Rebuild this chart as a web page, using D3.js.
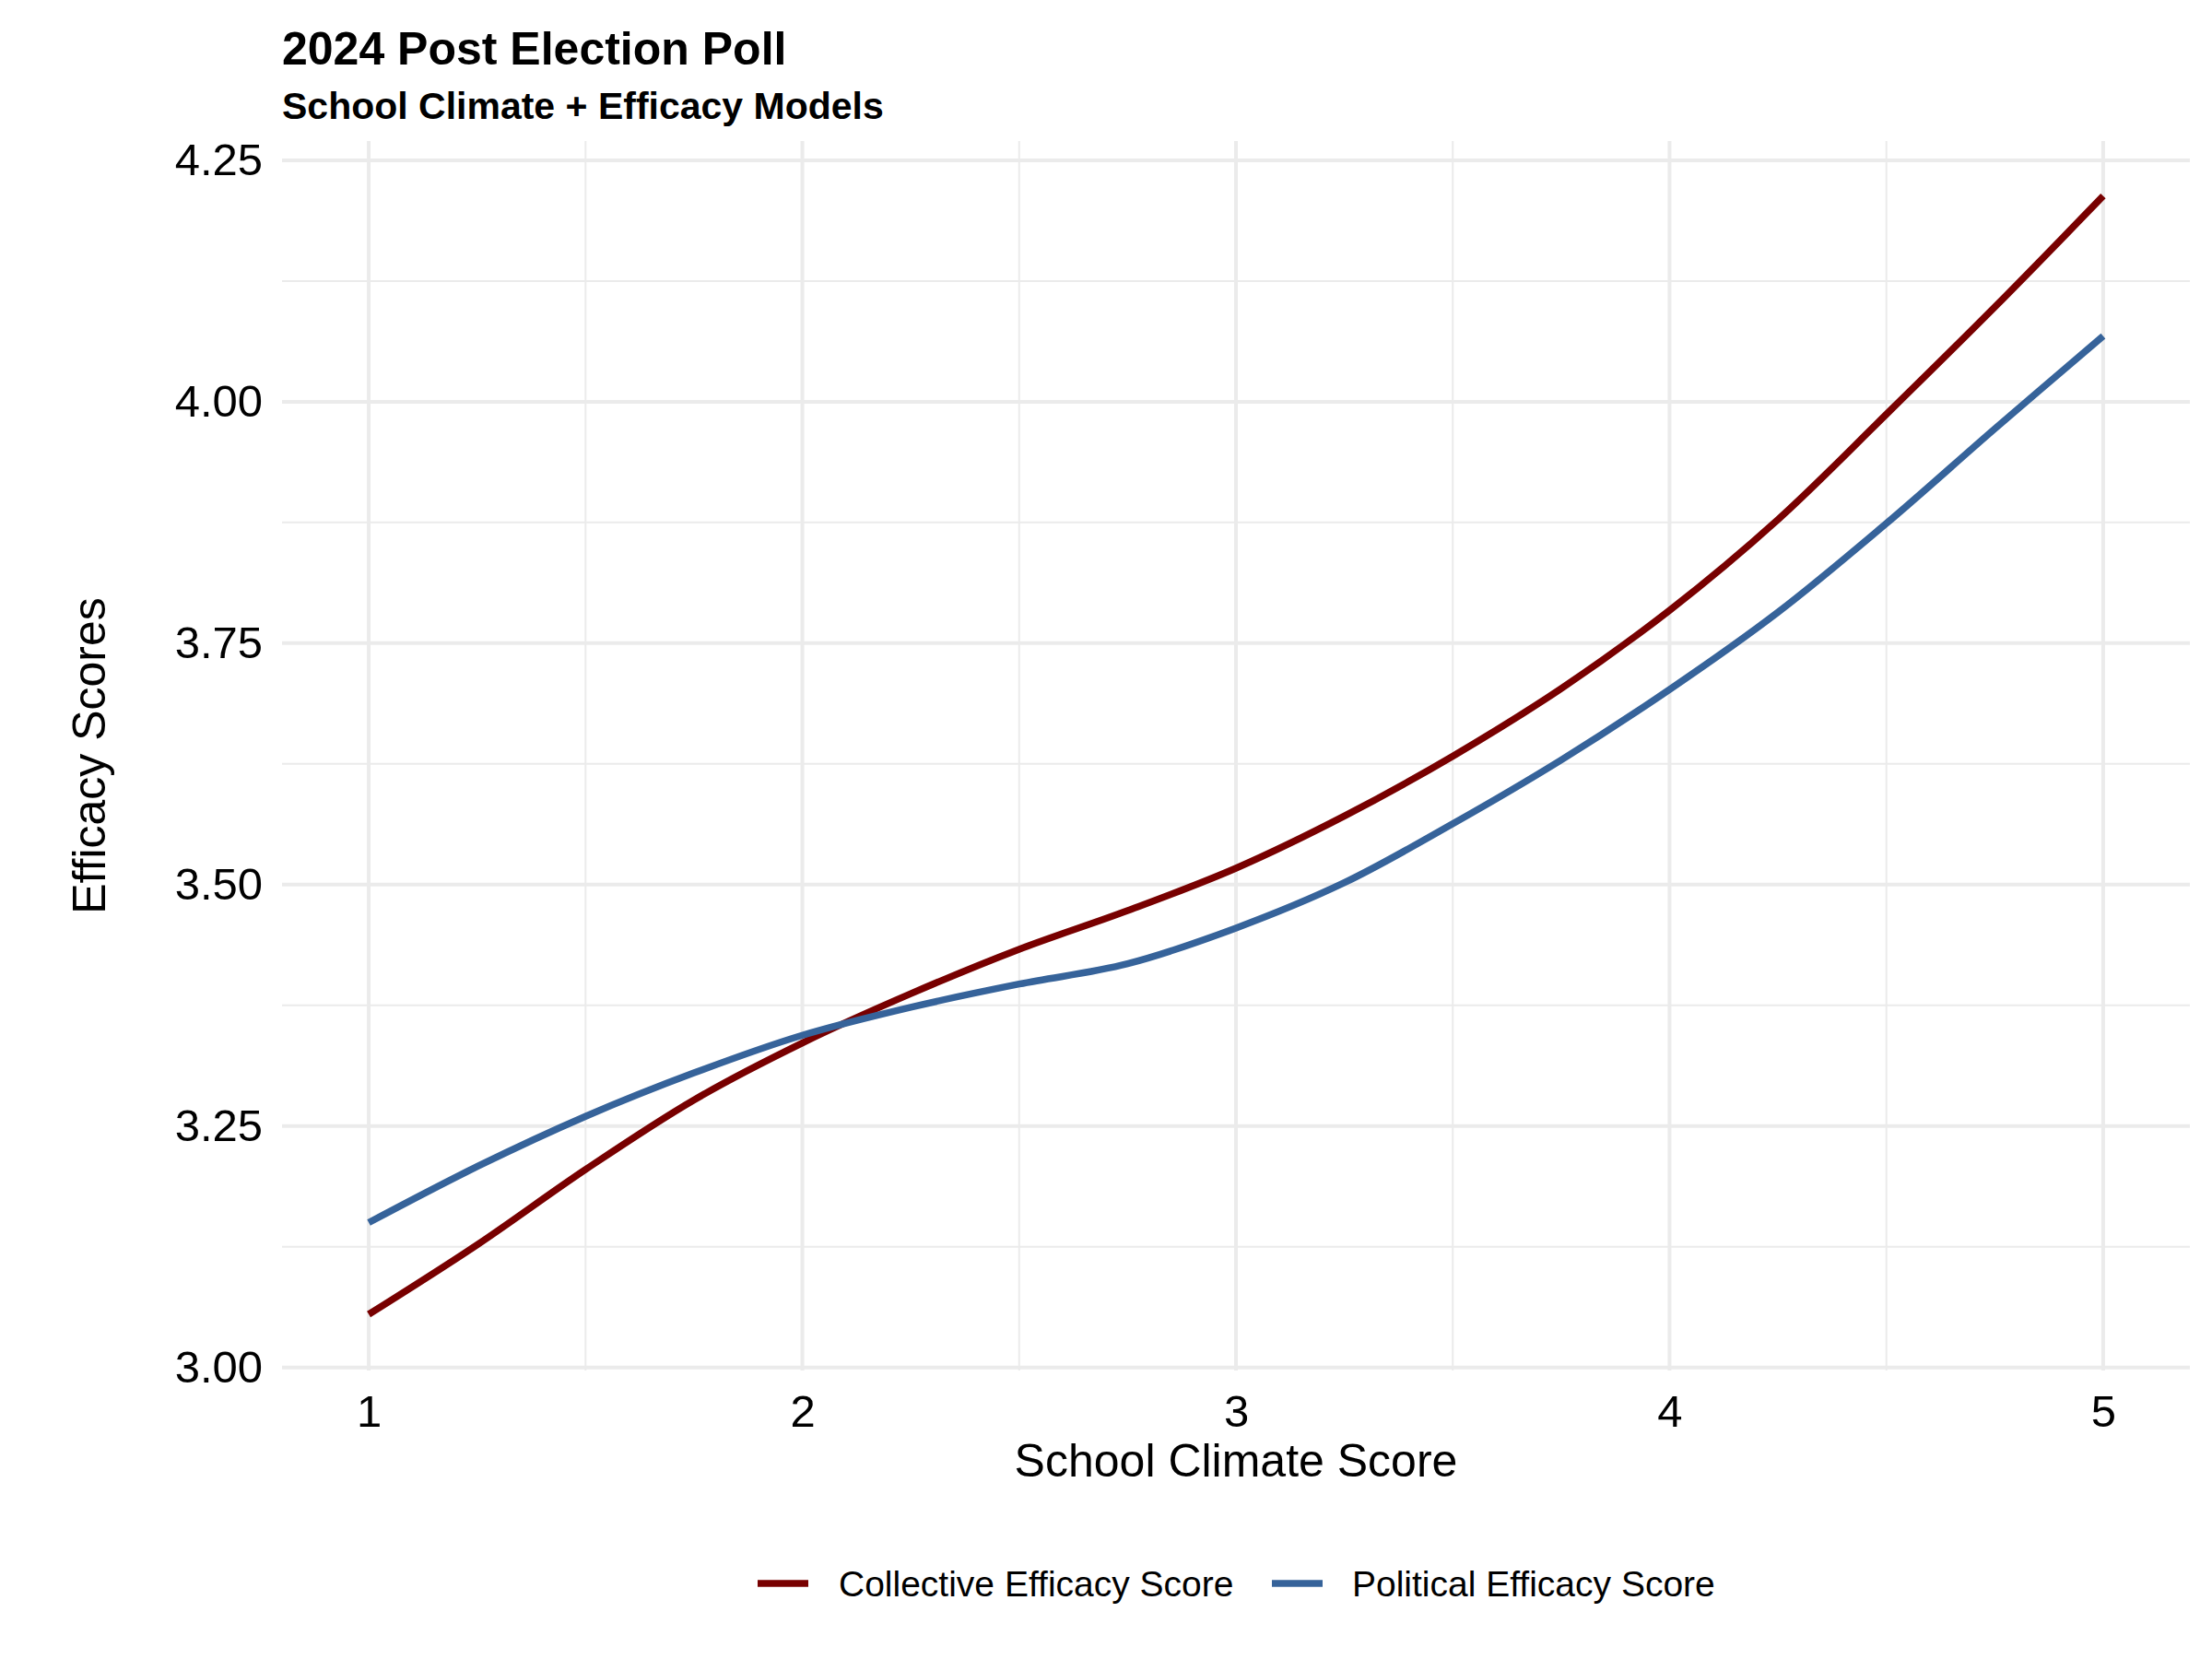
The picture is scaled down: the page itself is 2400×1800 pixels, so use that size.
<!DOCTYPE html>
<html>
<head>
<meta charset="utf-8">
<script src="https://cdn.jsdelivr.net/npm/d3@7"></script>
<style>
  html, body { margin: 0; padding: 0; background: #ffffff; }
  svg text { font-family: "Liberation Sans", Arial, Helvetica, sans-serif; fill: #000; }
</style>
</head>
<body>
<svg id="chart" width="2400" height="1800"></svg>
<script>
// ---- data ----
const climateScores = [1, 1.25, 1.5, 1.75, 2, 2.25, 2.5, 2.75, 3, 3.25, 3.5, 3.75, 4, 4.25, 4.5, 4.75, 5];
const collectiveEfficacy = [3.055, 3.127, 3.205, 3.277, 3.336, 3.387, 3.433, 3.473, 3.517, 3.571, 3.633, 3.703, 3.784, 3.878, 3.987, 4.098, 4.213];
const politicalEfficacy  = [3.150, 3.208, 3.260, 3.305, 3.344, 3.373, 3.397, 3.418, 3.455, 3.502, 3.563, 3.629, 3.702, 3.782, 3.874, 3.972, 4.068];
const seriesNames = ["Collective Efficacy Score", "Political Efficacy Score"];
const seriesColors = ["#780000", "#36639A"];
const xTicks = [1, 2, 3, 4, 5];
const xMinor = [1.5, 2.5, 3.5, 4.5];
const yTicks = [3.00, 3.25, 3.50, 3.75, 4.00, 4.25];
const yMinor = [3.125, 3.375, 3.625, 3.875, 4.125];
const titleText = "2024 Post Election Poll";
const subtitleText = "School Climate + Efficacy Models";
const xTitle = "School Climate Score";
const yTitle = "Efficacy Scores";

// ---- layout ----
const panel = { left: 306, right: 2376, top: 153, bottom: 1487 };
const svg = d3.select("#chart");

const x = d3.scaleLinear().domain([0.8, 5.2]).range([panel.left, panel.right]);
const y = d3.scaleLinear().domain([2.9968, 4.2700]).range([panel.bottom, panel.top]);

const grid = svg.append("g");
// minor gridlines
grid.selectAll("line.xminor").data(xMinor).enter().append("line")
  .attr("x1", d => x(d)).attr("x2", d => x(d))
  .attr("y1", panel.top).attr("y2", panel.bottom)
  .attr("stroke", "#EBEBEB").attr("stroke-width", 2);
grid.selectAll("line.yminor").data(yMinor).enter().append("line")
  .attr("x1", panel.left).attr("x2", panel.right)
  .attr("y1", d => y(d)).attr("y2", d => y(d))
  .attr("stroke", "#EBEBEB").attr("stroke-width", 2);
// major gridlines
grid.selectAll("line.xmajor").data(xTicks).enter().append("line")
  .attr("x1", d => x(d)).attr("x2", d => x(d))
  .attr("y1", panel.top).attr("y2", panel.bottom)
  .attr("stroke", "#EBEBEB").attr("stroke-width", 4);
grid.selectAll("line.ymajor").data(yTicks).enter().append("line")
  .attr("x1", panel.left).attr("x2", panel.right)
  .attr("y1", d => y(d)).attr("y2", d => y(d))
  .attr("stroke", "#EBEBEB").attr("stroke-width", 4);

// axes (labels only)
const yAxis = d3.axisLeft(y).tickValues(yTicks).tickFormat(d3.format(".2f")).tickSize(0).tickPadding(21);
const gy = svg.append("g").attr("transform", `translate(${panel.left},0)`).call(yAxis);
gy.select(".domain").remove();
gy.selectAll("text").attr("font-size", 49).attr("font-family", "Liberation Sans, Arial, sans-serif").attr("fill", "#000");

const xAxis = d3.axisBottom(x).tickValues(xTicks).tickFormat(d3.format("d")).tickSize(0).tickPadding(26);
const gx = svg.append("g").attr("transform", `translate(0,${panel.bottom})`).call(xAxis);
gx.select(".domain").remove();
gx.selectAll("text").attr("font-size", 49).attr("font-family", "Liberation Sans, Arial, sans-serif").attr("fill", "#000");

// lines
const line = d3.line().x(d => x(d[0])).y(d => y(d[1])).curve(d3.curveCatmullRom.alpha(0.5));
const seriesData = [collectiveEfficacy, politicalEfficacy];
seriesData.forEach((vals, i) => {
  svg.append("path")
    .datum(climateScores.map((c, k) => [c, vals[k]]))
    .attr("d", line)
    .attr("fill", "none")
    .attr("stroke", seriesColors[i])
    .attr("stroke-width", 7.5)
    .attr("stroke-linejoin", "round");
});

// titles
svg.append("text").attr("x", 306).attr("y", 70)
  .attr("font-size", 50).attr("font-weight", "bold").text(titleText);
svg.append("text").attr("x", 306).attr("y", 129)
  .attr("font-size", 41).attr("font-weight", "bold").text(subtitleText);

// axis titles
svg.append("text").attr("x", (panel.left + panel.right) / 2).attr("y", 1602)
  .attr("text-anchor", "middle").attr("font-size", 50).text(xTitle);
svg.append("text")
  .attr("transform", `translate(114,${(panel.top + panel.bottom) / 2}) rotate(-90)`)
  .attr("text-anchor", "middle").attr("font-size", 50).text(yTitle);

// legend
const legendY = 1718;
const legendKeyX = [822, 1380];
const legendTextX = [910, 1467];
seriesNames.forEach((name, i) => {
  svg.append("line")
    .attr("x1", legendKeyX[i]).attr("x2", legendKeyX[i] + 55)
    .attr("y1", legendY).attr("y2", legendY)
    .attr("stroke", seriesColors[i]).attr("stroke-width", 7.5);
  svg.append("text")
    .attr("x", legendTextX[i]).attr("y", legendY + 14)
    .attr("font-size", 39).text(name);
});
</script>
</body>
</html>
